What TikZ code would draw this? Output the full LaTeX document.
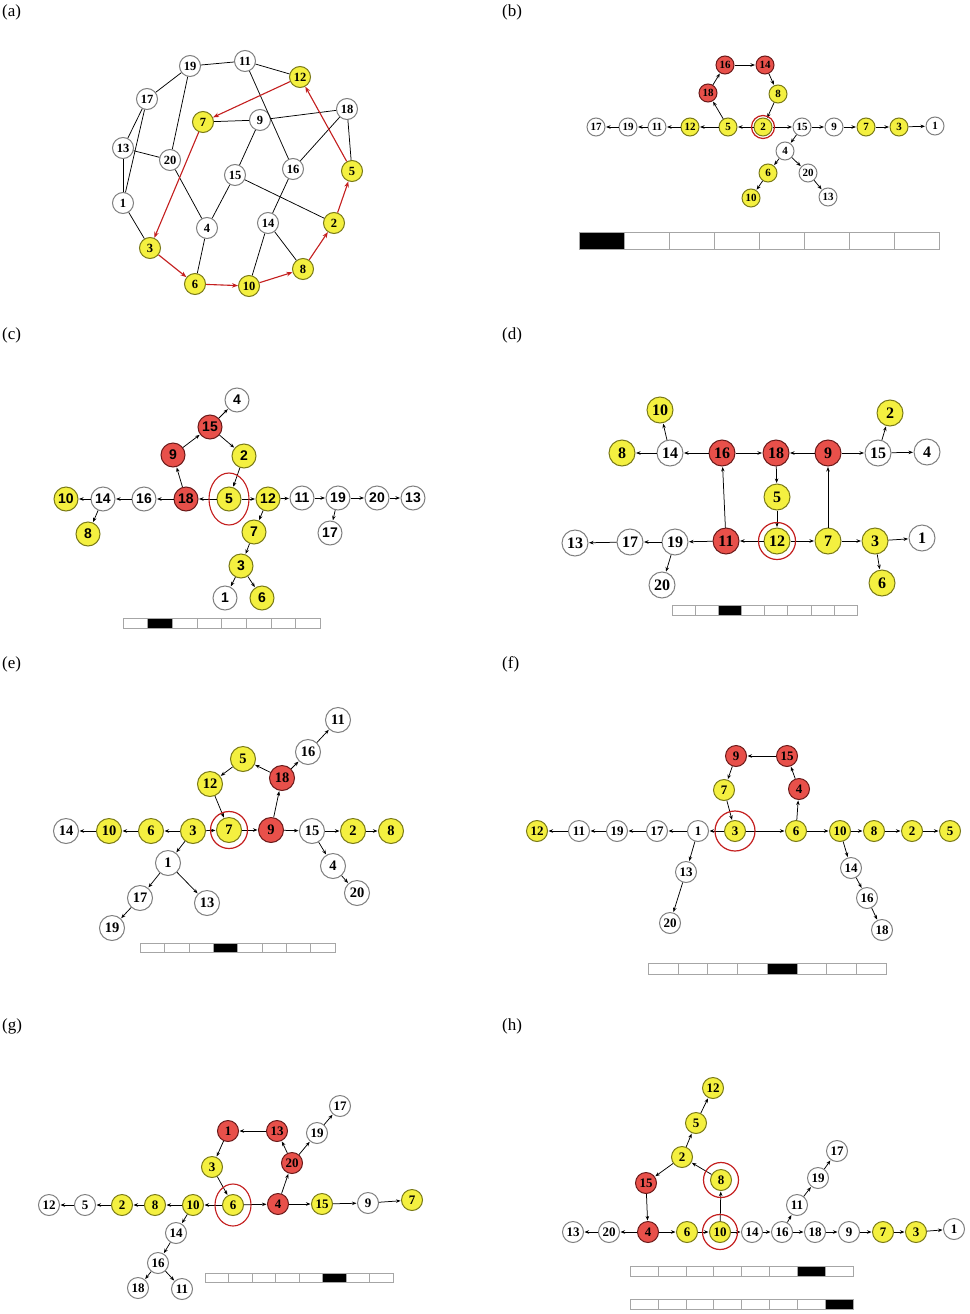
\documentclass[tikz,border=0pt]{standalone}
\usepackage{fontspec}
\setmainfont{Liberation Serif}
\newfontfamily\arialf{Liberation Sans}
\usetikzlibrary{arrows.meta}
\definecolor{yfill}{HTML}{F4F040}
\definecolor{ydraw}{HTML}{7A7A18}
\definecolor{rfill}{HTML}{E8504A}
\definecolor{rdraw}{HTML}{6A1A1A}
\definecolor{wdraw}{HTML}{808080}
\definecolor{ring}{HTML}{C41E1E}
\tikzset{
  base/.style={circle,inner sep=0pt,line width=1pt},
  W/.style={base,draw=wdraw,fill=white},
  Y/.style={base,draw=ydraw,fill=yfill},
  R/.style={base,draw=rdraw,fill=rfill},
  ar/.style={-{Stealth[length=4.5pt,width=3.5pt]},line width=0.75pt,shorten >=0.5pt},
  pl/.style={line width=0.75pt},
  rar/.style={-{Stealth[length=6pt,width=4.5pt]},line width=1.1pt,draw=ring},
  ringc/.style={circle,draw=ring,line width=1.2pt,inner sep=0pt,fill=none},
  plabel/.style={font=\fontsize{17}{19}\selectfont,anchor=north west,inner sep=0pt}
}
\newcommand{\scalebar}[5]{%
  \pgfmathsetmacro{\cw}{(#2-#1)/8}
  \foreach \i in {0,...,7}{
    \pgfmathsetmacro{\xa}{#1+\i*\cw}\pgfmathsetmacro{\xb}{#1+(\i+1)*\cw}
    \ifnum\i=#5 \filldraw[fill=black,draw=gray!70,line width=0.4pt] (\xa,#3) rectangle (\xb,#4);
    \else \draw[draw=gray!70,line width=0.4pt] (\xa,#3) rectangle (\xb,#4); \fi}}
\begin{document}
\begin{tikzpicture}[x=1pt,y=-1pt]
\useasboundingbox (0,0) rectangle (969,1314);
\fill[white] (0,0) rectangle (969,1314);
% labels
\node[plabel] (la) at (2,5) {(a)};
\node[plabel] (lb) at (502,5) {(b)};
\node[plabel] (lc) at (2,328) {(c)};
\node[plabel] (ld) at (502,328) {(d)};
\node[plabel] (le) at (2,656) {(e)};
\node[plabel] (lf) at (502,656) {(f)};
\node[plabel] (lg) at (2,1018) {(g)};
\node[plabel] (lh) at (502,1018) {(h)};

% ---------- (a)
\begin{scope}[every node/.append style={minimum size=21pt,font=\bfseries\fontsize{12.5}{14}\selectfont}]
\foreach \n/\s/\x/\y in {19/W/190/66,11/W/245/61,12/Y/300/77,17/W/147/99,7/Y/203/122,9/W/260/120,18/W/347/109,13/W/123/148,20/W/170/160,15/W/235/175,16/W/293/169,5/Y/352/171,1/W/123/203,4/W/207/228,14/W/268/223,2/Y/334/223,3/Y/150/248,6/Y/195/284,10/Y/249/286,8/Y/303/269}
  \node[\s] (a\n) at (\x,\y) {\n};
\foreach \u/\v in {19/11,11/12,19/17,19/20,17/13,17/1,13/1,13/20,11/16,7/9,9/18,9/15,18/16,18/5,20/4,15/4,15/2,16/14,14/10,14/8,1/3,4/6}
  \draw[pl] (a\u) -- (a\v);
\foreach \u/\v in {12/7,7/3,3/6,6/10,10/8,8/2,2/5,5/12}
  \draw[rar] (a\u) -- (a\v);
\end{scope}

% ---------- (b)
\begin{scope}[every node/.append style={minimum size=18pt,font=\bfseries\fontsize{11}{13}\selectfont}]
\foreach \n/\s/\x/\y in {16/R/725/65,14/R/765/65,18/R/708/93,8/Y/778/94,17/W/596/127,19/W/628/127,11/W/657/127,12/Y/690/127,5/Y/728/127,2/Y/763/127,15/W/802/127,9/W/834/127,7/Y/866/127,3/Y/899/127,1/W/935/126,4/W/785/151,6/Y/768/173,20/W/808/173,10/Y/751/198,13/W/828/197}
  \node[\s] (b\n) at (\x,\y) {\n};
\foreach \u/\v in {2/5,5/12,12/11,11/19,19/17,5/18,18/16,16/14,14/8,8/2,2/15,15/9,9/7,7/3,3/1,15/4,4/6,6/10,4/20,20/13}
  \draw[ar] (b\u) -- (b\v);
\node[ringc,minimum size=23pt] (rb) at (b2) {};
\end{scope}
\scalebar{579}{939}{232}{249}{0}

% ---------- (c)
\begin{scope}[every node/.append style={minimum size=24pt,font=\arialf\bfseries\fontsize{14}{16}\selectfont}]
\foreach \n/\s/\x/\y in {4/W/237/400,15/R/210/427,9/R/173/455,2/Y/244/456,10/Y/66/499,14/W/103/499,16/W/144/499,18/R/186/499,5/Y/229/499,12/Y/268/499,11/W/302/498,19/W/338/498,20/W/377/498,13/W/413/498,8/Y/88/534,17/W/330/533,7/Y/254/532,3/Y/241/566,1/W/225/598,6/Y/262/598}
  \node[\s] (c\n) at (\x,\y) {\n};
\foreach \u/\v in {5/18,18/16,16/14,14/10,14/8,18/9,9/15,15/4,15/2,2/5,5/12,12/11,11/19,19/20,20/13,19/17,12/7,7/3,3/1,3/6}
  \draw[ar] (c\u) -- (c\v);
\draw[ring,line width=1.1pt] (c5) ellipse [x radius=20pt,y radius=26pt];
\end{scope}
\scalebar{123}{320}{618}{628}{1}

% ---------- (d)
\begin{scope}[every node/.append style={minimum size=26pt,font=\bfseries\fontsize{16}{18}\selectfont}]
\foreach \n/\s/\x/\y in {10/Y/660/410,2/Y/890/413,8/Y/622/453,14/W/670/453,16/R/722/453,18/R/776/453,9/R/828/453,15/W/878/453,4/W/927/452,5/Y/777/497,13/W/575/543,17/W/630/542,19/W/675/542,11/R/726/541,12/Y/777/541,7/Y/828/541,3/Y/875/541,1/W/922/538,20/W/662/585,6/Y/882/583}
  \node[\s] (d\n) at (\x,\y) {\n};
\foreach \u/\v in {14/10,14/8,16/14,16/18,9/18,9/15,15/2,15/4,18/5,5/12,12/11,12/7,11/16,7/9,11/19,19/17,17/13,19/20,7/3,3/1,3/6}
  \draw[ar] (d\u) -- (d\v);
\node[ringc,minimum size=37pt] (rd) at (d12) {};
\end{scope}
\scalebar{672}{857}{605}{615}{2}

% ---------- (e)
\begin{scope}[every node/.append style={minimum size=25pt,font=\bfseries\fontsize{14.5}{17}\selectfont}]
\foreach \n/\s/\x/\y in {11/W/338/720,16/W/308/752,5/Y/243/759,18/R/282/778,12/Y/210/784,14/W/66/831,10/Y/109/831,6/Y/151/831,3/Y/193/831,7/Y/229/830,9/R/271/830,15/W/312/831,2/Y/353/831,8/Y/391/831,1/W/168/863,4/W/333/866,17/W/140/898,13/W/207/903,20/W/357/893,19/W/112/928}
  \node[\s] (e\n) at (\x,\y) {\n};
\foreach \u/\v in {7/9,9/18,18/16,16/11,18/5,5/12,12/7,3/7,3/6,6/10,10/14,3/1,1/17,17/19,1/13,9/15,15/2,2/8,15/4,4/20}
  \draw[ar] (e\u) -- (e\v);
\node[ringc,minimum size=37pt] (re) at (e7) {};
\end{scope}
\scalebar{140}{335}{943}{952}{3}

% ---------- (f)
\begin{scope}[every node/.append style={minimum size=21pt,font=\bfseries\fontsize{13}{15}\selectfont}]
\foreach \n/\s/\x/\y in {9/R/736/756,15/R/787/756,7/Y/724/790,4/R/799/789,12/Y/537/831,11/W/579/831,19/W/617/831,17/W/657/831,1/W/698/831,3/Y/735/831,6/Y/796/831,10/Y/840/831,8/Y/874/831,2/Y/912/831,5/Y/950/831,13/W/686/872,14/W/851/868,16/W/867/898,20/W/670/923,18/W/882/930}
  \node[\s] (f\n) at (\x,\y) {\n};
\foreach \u/\v in {3/1,1/17,17/19,19/11,11/12,1/13,13/20,3/6,6/4,4/15,15/9,9/7,7/3,6/10,10/8,8/2,2/5,10/14,14/16,16/18}
  \draw[ar] (f\u) -- (f\v);
\node[ringc,minimum size=40pt] (rf) at (f3) {};
\end{scope}
\scalebar{648}{886}{963}{974}{4}

% ---------- (g)
\begin{scope}[every node/.append style={minimum size=21pt,font=\bfseries\fontsize{13}{15}\selectfont}]
\foreach \n/\s/\x/\y in {17/W/340/1106,1/R/228/1131,13/R/277/1131,19/W/317/1133,3/Y/212/1167,20/R/292/1163,12/W/49/1205,5/W/85/1205,2/Y/122/1205,8/Y/155/1205,10/Y/193/1205,6/Y/233/1205,4/R/278/1204,15/Y/322/1204,9/W/368/1203,7/Y/412/1200,14/W/176/1233,16/W/158/1263,18/W/138/1288,11/W/182/1289}
  \node[\s] (g\n) at (\x,\y) {\n};
\foreach \u/\v in {6/10,10/8,8/2,2/5,5/12,10/14,14/16,16/18,16/11,6/4,4/20,20/13,13/1,1/3,3/6,20/19,19/17,4/15,15/9,9/7}
  \draw[ar] (g\u) -- (g\v);
\draw[ring,line width=1.1pt] (g6) ellipse [x radius=18pt,y radius=21pt];
\end{scope}
\scalebar{205}{393}{1273}{1282}{5}

% ---------- (h)
\begin{scope}[every node/.append style={minimum size=21pt,font=\bfseries\fontsize{13}{15}\selectfont}]
\foreach \n/\s/\x/\y in {12/Y/713/1088,5/Y/696/1123,2/Y/682/1157,15/R/646/1183,8/Y/721/1180,17/W/837/1151,19/W/818/1178,11/W/797/1205,13/W/573/1232,20/W/609/1232,4/R/648/1232,6/Y/687/1232,10/Y/720/1232,14/W/752/1232,16/W/782/1232,18/W/815/1232,9/W/849/1232,7/Y/883/1232,3/Y/916/1232,1/W/954/1229}
  \node[\s] (h\n) at (\x,\y) {\n};
\foreach \u/\v in {10/8,8/2,2/5,5/12,2/15,15/4,4/20,20/13,4/6,6/10,10/14,14/16,16/11,11/19,19/17,16/18,18/9,9/7,7/3,3/1}
  \draw[ar] (h\u) -- (h\v);
\node[ringc,minimum size=35pt] (rh1) at (h8) {};
\node[ringc,minimum size=35pt] (rh2) at (h10) {};
\end{scope}
\scalebar{630}{853}{1266}{1276}{6}
\scalebar{630}{853}{1299}{1309}{7}
\end{tikzpicture}
\end{document}
